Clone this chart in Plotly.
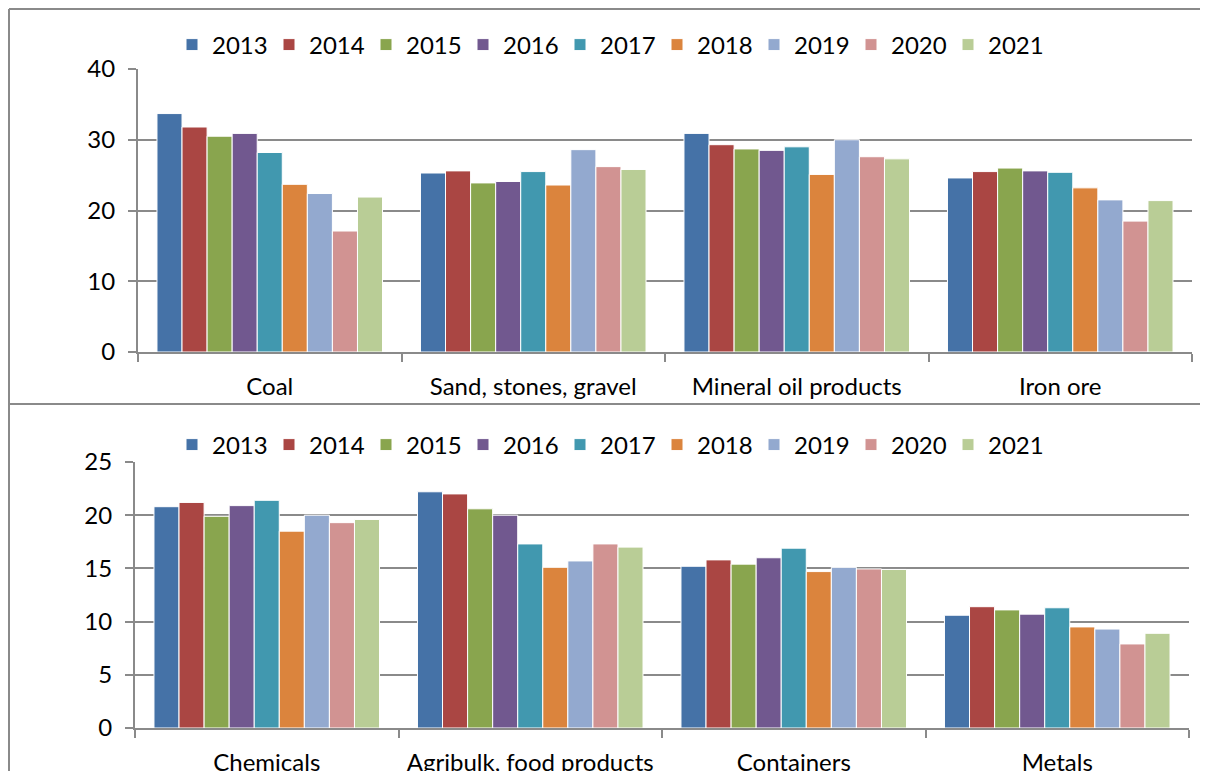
import plotly.graph_objects as go

# a página tem margem de 8px no body: descontamos isso das posições
OFF = 8
W, H = 1208 - OFF, 771 - OFF

anos = ['2013', '2014', '2015', '2016', '2017', '2018', '2019', '2020', '2021']
cores = ['#4572A7', '#AA4643', '#89A54E', '#71588F', '#4198AF',
         '#DB843D', '#93A9CF', '#D19392', '#B9CD96']

categorias_topo = ['Coal', 'Sand, stones, gravel', 'Mineral oil products', 'Iron ore']
categorias_baixo = ['Chemicals', 'Agribulk, food products', 'Containers', 'Metals']

# valores por categoria (ordem 2013..2021)
coal = [33.7, 31.8, 30.5, 30.9, 28.2, 23.7, 22.4, 17.1, 21.9]
sand = [25.3, 25.6, 23.9, 24.1, 25.5, 23.6, 28.6, 26.2, 25.8]
mineral_oil = [30.9, 29.3, 28.7, 28.5, 29.0, 25.1, 30.0, 27.6, 27.3]
iron_ore = [24.6, 25.5, 26.0, 25.6, 25.4, 23.2, 21.5, 18.5, 21.4]

chemicals = [20.8, 21.2, 19.9, 20.9, 21.4, 18.5, 20.0, 19.3, 19.6]
agribulk = [22.2, 22.0, 20.6, 20.0, 17.3, 15.1, 15.7, 17.3, 17.0]
containers = [15.2, 15.8, 15.4, 16.0, 16.9, 14.7, 15.1, 14.95, 14.9]
metals = [10.6, 11.4, 11.1, 10.7, 11.3, 9.5, 9.3, 7.9, 8.9]

topo = [coal, sand, mineral_oil, iron_ore]
baixo = [chemicals, agribulk, containers, metals]

FONTE = 'Lato'
TAM = 24
CINZA = '#8a8a8a'


def px_x(v):
    return (v - OFF) / W


def px_y(v):
    return 1 - (v - OFF) / H


fig = go.Figure()

for i, ano in enumerate(anos):
    fig.add_trace(go.Bar(
        x=categorias_topo, y=[serie[i] for serie in topo], name=ano,
        marker=dict(color=cores[i], line=dict(color='white', width=1)),
        xaxis='x', yaxis='y', legend='legend'))
for i, ano in enumerate(anos):
    fig.add_trace(go.Bar(
        x=categorias_baixo, y=[serie[i] for serie in baixo], name=ano,
        marker=dict(color=cores[i], line=dict(color='white', width=1)),
        xaxis='x2', yaxis='y2', legend='legend2'))

eixo_x = dict(tickson='boundaries', ticks='outside', ticklen=8, tickwidth=2,
              tickcolor=CINZA, showline=True, linecolor=CINZA, linewidth=2,
              showgrid=False, tickfont=dict(size=TAM, color='black'),
              ticklabelstandoff=12)
eixo_y = dict(ticks='outside', ticklen=8, tickwidth=2, tickcolor=CINZA,
              showline=True, linecolor=CINZA, linewidth=2, showgrid=True,
              gridcolor=CINZA, gridwidth=2, zeroline=False,
              tickfont=dict(size=TAM, color='black'), ticklabelstandoff=8)

legenda = dict(orientation='h', xanchor='left', yanchor='middle',
               font=dict(size=TAM), entrywidth=52, entrywidthmode='pixels',
               bgcolor='rgba(0,0,0,0)', itemclick=False, traceorder='normal')

# molduras dos dois painéis (sem lado direito, que fica fora da imagem)
borda = dict(type='line', xref='paper', yref='paper',
             line=dict(color=CINZA, width=2))
molduras = [
    dict(x0=px_x(9), x1=1, y0=px_y(9), y1=px_y(9), **borda),
    dict(x0=px_x(9), x1=1, y0=px_y(404), y1=px_y(404), **borda),
    dict(x0=px_x(9), x1=px_x(9), y0=0, y1=px_y(9), **borda),
]

fig.update_layout(
    width=W, height=H,
    margin=dict(l=0, r=0, t=0, b=0, autoexpand=False),
    paper_bgcolor='white', plot_bgcolor='white',
    font=dict(family=FONTE, color='black'),
    barmode='group', bargap=0.144, bargroupgap=0,
    xaxis=dict(domain=[px_x(138), px_x(1192)], anchor='y', **eixo_x),
    yaxis=dict(domain=[px_y(352), px_y(69)], anchor='x', range=[0, 40],
               dtick=10, **eixo_y),
    xaxis2=dict(domain=[px_x(135), px_x(1189)], anchor='y2', **eixo_x),
    yaxis2=dict(domain=[px_y(728), px_y(462)], anchor='x2', range=[0, 25],
                dtick=5, **eixo_y),
    legend=dict(x=px_x(172), y=px_y(45), **legenda),
    legend2=dict(x=px_x(172), y=px_y(445), **legenda),
    shapes=molduras,
)

fig.write_html('out.html')
